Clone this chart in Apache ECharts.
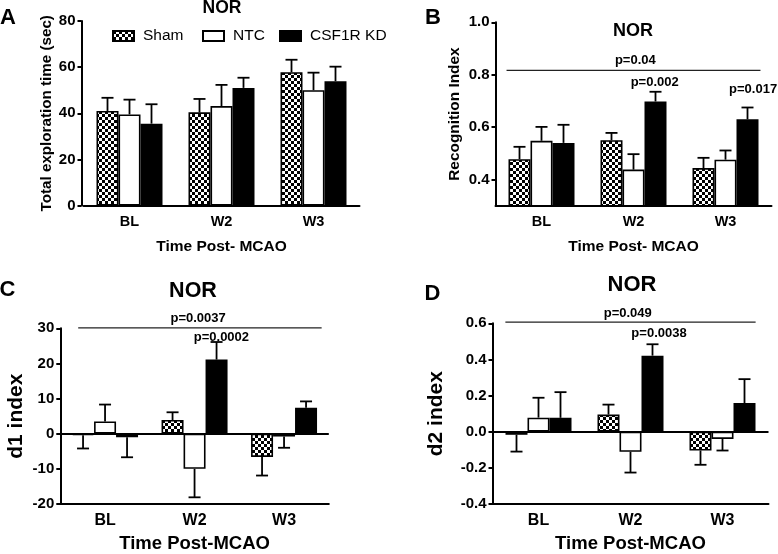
<!DOCTYPE html>
<html>
<head>
<meta charset="utf-8">
<script src="https://cdn.jsdelivr.net/npm/echarts@6/dist/echarts.min.js"></script>
<style>
html,body{margin:0;padding:0;background:#fff;}
#chart{width:778px;height:554px;}
</style>
</head>
<body>
<div id="chart"></div>
<script>
// ---------- data ----------
const categories = ['BL', 'W2', 'W3'];
const groups = ['Sham', 'NTC', 'CSF1R KD'];

// Panel A: Total exploration time (sec) – mean and SEM
const aSham = [41.0, 40.4, 57.8];
const aShamSem = [5.7, 5.8, 5.4];
const aNtc = [39.5, 43.1, 50.0];
const aNtcSem = [6.4, 9.2, 7.6];
const aKd = [35.5, 51.0, 53.9];
const aKdSem = [8.4, 4.4, 6.3];

// Panel B: Recognition Index
const bSham = [0.478, 0.550, 0.444];
const bShamSem = [0.047, 0.028, 0.039];
const bNtc = [0.548, 0.438, 0.476];
const bNtcSem = [0.053, 0.059, 0.035];
const bKd = [0.540, 0.698, 0.630];
const bKdSem = [0.069, 0.037, 0.045];

// Panel C: d1 index
const cSham = [-0.4, 3.9, -6.6];
const cShamSem = [3.8, 2.2, 5.3];
const cNtc = [3.5, -10.0, -0.8];
const cNtcSem = [4.8, 8.1, 3.2];
const cKd = [-1.0, 21.1, 7.4];
const cKdSem = [5.7, 5.0, 1.8];

// Panel D: d2 index
const dSham = [-0.017, 0.095, -0.104];
const dShamSem = [0.093, 0.055, 0.079];
const dNtc = [0.078, -0.111, -0.040];
const dNtcSem = [0.110, 0.115, 0.064];
const dKd = [0.077, 0.421, 0.159];
const dKdSem = [0.142, 0.063, 0.132];

// tick labels
const aTicks = [0, 20, 40, 60, 80];
const bTicks = [0.4, 0.6, 0.8, 1.0];
const cTicks = [-20, -10, 0, 10, 20, 30];
const dTicks = [-0.4, -0.2, 0.0, 0.2, 0.4, 0.6];

// significance annotations (x in category units, y in data units)
const bBracket = [[-0.38, 0.8165], [2.38, 0.8165]];
const bPvals = [[1.02, 0.856, 'p=0.04'], [1.23, 0.772, 'p=0.002'], [2.30, 0.745, 'p=0.017']];
const cBracket = [[-0.30, 30.1], [2.42, 30.1]];
const cPvals = [[1.04, 32.8, 'p=0.0037'], [1.30, 27.5, 'p=0.0002']];
const dBracket = [[-0.36, 0.607], [2.36, 0.607]];
const dPvals = [[0.97, 0.655, 'p=0.049'], [1.31, 0.546, 'p=0.0038']];

// ---------- styling ----------
const FONT = "'Liberation Sans', Arial, sans-serif";
const BAR_W = 22;

function checker() {
  const c = document.createElement('canvas');
  c.width = 6; c.height = 6;
  const g = c.getContext('2d');
  g.fillStyle = '#fff'; g.fillRect(0, 0, 6, 6);
  g.fillStyle = '#000';
  g.fillRect(0, 0, 3, 3); g.fillRect(3, 3, 3, 3);
  return c;
}
const pattern = { image: checker(), repeat: 'repeat' };
const fills = [pattern, '#ffffff', '#000000'];

const chart = echarts.init(document.getElementById('chart'), null, { renderer: 'canvas' });

const grids = [
  { left: 83.5, top: 21, width: 276, height: 184.5 },
  { left: 495.5, top: 22.3, width: 276, height: 183.5 },
  { left: 60.3, top: 328.3, width: 268.5, height: 179.4 },
  { left: 492.5, top: 323.3, width: 276, height: 184.4 }
];

const xLabelSize = [14.5, 14.5, 16, 16];
const xNameSize = [15.5, 15.5, 18.5, 18.5];
const xNameGap = [33, 33, 30, 30];
const xNames = ['Time Post- MCAO', 'Time Post- MCAO', 'Time Post-MCAO', 'Time Post-MCAO'];

const xAxes = [];
for (let k = 0; k < 4; k++) {
  xAxes.push({
    type: 'category', gridIndex: k, data: categories,
    name: xNames[k], nameLocation: 'middle', nameGap: xNameGap[k],
    nameTextStyle: { fontFamily: FONT, fontWeight: 'bold', fontSize: xNameSize[k], color: '#000' },
    axisLine: { onZero: false, lineStyle: { color: '#000', width: 2 } },
    axisTick: { alignWithLabel: true, length: 4, lineStyle: { color: '#000', width: 2 } },
    axisLabel: { fontFamily: FONT, fontWeight: 'bold', fontSize: xLabelSize[k], color: '#000', margin: 9 },
    splitLine: { show: false }
  });
}
// hidden value axes for annotations
for (let k = 0; k < 4; k++) {
  xAxes.push({ type: 'value', gridIndex: k, min: -0.5, max: 2.5, show: false, axisLine: { onZero: false } });
}

function yAxisBase(k, name, gap, size) {
  return {
    type: 'value', gridIndex: k, position: 'left',
    name: name, nameLocation: 'middle', nameGap: gap, nameRotate: 90,
    nameTextStyle: { fontFamily: FONT, fontWeight: 'bold', fontSize: size, color: '#000' },
    axisLine: { show: true, onZero: false, lineStyle: { color: '#000', width: 2 } },
    axisTick: { show: true, length: 4, lineStyle: { color: '#000', width: 2 } },
    axisLabel: { fontFamily: FONT, fontWeight: 'bold', fontSize: 15, color: '#000', margin: 6 },
    splitLine: { show: false }
  };
}
const fmt1 = v => (Math.abs(v) < 1e-9 ? '0.0' : v.toFixed(1));

const yA = yAxisBase(0, 'Total exploration time (sec)', 27, 15.2);
Object.assign(yA, { min: aTicks[0], max: aTicks[aTicks.length - 1], interval: 20, offset: 2 });
const yB = yAxisBase(1, 'Recognition Index', 33, 15.4);
Object.assign(yB, { min: 0.3, max: 1.0 });
yB.axisLabel.customValues = bTicks;
yB.axisLabel.formatter = fmt1;
yB.axisTick.customValues = bTicks;
const yC = yAxisBase(2, 'd1 index', 34, 21);
Object.assign(yC, { min: cTicks[0], max: cTicks[cTicks.length - 1], interval: 10 });
const yD = yAxisBase(3, 'd2 index', 46, 21);
Object.assign(yD, { min: dTicks[0], max: dTicks[dTicks.length - 1], interval: 0.2 });
yD.axisLabel.formatter = fmt1;

function errRender(idx) {
  return function (params, api) {
    const c = api.value(0), v = api.value(1), s = api.value(2);
    const end = v >= 0 ? v + s : v - s;
    const p0 = api.coord([c, v]);
    const p1 = api.coord([c, end]);
    const x = p0[0] + (idx - 1) * BAR_W;
    const st = { stroke: '#000', lineWidth: 1.8 };
    return {
      type: 'group', children: [
        { type: 'line', shape: { x1: x, y1: p0[1], x2: x, y2: p1[1] }, style: st },
        { type: 'line', shape: { x1: x - 6, y1: p1[1], x2: x + 6, y2: p1[1] }, style: st }
      ]
    };
  };
}

const series = [];
const panels = [
  [[aSham, aShamSem], [aNtc, aNtcSem], [aKd, aKdSem]],
  [[bSham, bShamSem], [bNtc, bNtcSem], [bKd, bKdSem]],
  [[cSham, cShamSem], [cNtc, cNtcSem], [cKd, cKdSem]],
  [[dSham, dShamSem], [dNtc, dNtcSem], [dKd, dKdSem]]
];
panels.forEach((pan, k) => {
  pan.forEach((g, i) => {
    const s = {
      type: 'bar', name: groups[i], xAxisIndex: k, yAxisIndex: k,
      data: g[0], barWidth: BAR_W, barGap: '0%',
      itemStyle: { color: fills[i], borderColor: '#000', borderWidth: 1.6 },
      emphasis: { disabled: true }, z: 2
    };
    if ((k === 2 || k === 3) && i === 0) {
      s.markLine = {
        silent: true, symbol: ['none', 'none'], label: { show: false },
        lineStyle: { color: '#000', width: 2, type: 'solid' },
        data: [{ yAxis: 0 }]
      };
    }
    series.push(s);
  });
  pan.forEach((g, i) => {
    series.push({
      type: 'custom', xAxisIndex: k, yAxisIndex: k, z: 3,
      data: g[0].map((v, j) => [j, v, g[1][j]]),
      renderItem: errRender(i)
    });
  });
});

function textRender(size) {
  return function (params, api) {
    const p = api.coord([api.value(0), api.value(1)]);
    return {
      type: 'text', x: p[0], y: p[1],
      style: {
        text: String(api.value(2)), textAlign: 'center', textVerticalAlign: 'middle',
        fontFamily: FONT, fontWeight: 'bold', fontSize: size, fill: '#000'
      }
    };
  };
}
[[1, bBracket, bPvals], [2, cBracket, cPvals], [3, dBracket, dPvals]].forEach(([k, br, pv]) => {
  series.push({
    type: 'line', xAxisIndex: 4 + k, yAxisIndex: k, data: br, symbol: 'none', clip: false,
    lineStyle: { color: '#222', width: 1.2 }, silent: true, z: 4
  });
  series.push({
    type: 'custom', xAxisIndex: 4 + k, yAxisIndex: k, clip: false, z: 4,
    dimensions: ['x', 'y', { name: 'label', type: 'ordinal' }],
    data: pv, renderItem: textRender(13)
  });
});

function legendFor(name, left) {
  return {
    data: [name], left: left, top: 23, itemWidth: 21, itemHeight: 10, itemGap: 0,
    selectedMode: false, icon: 'rect',
    textStyle: { fontFamily: FONT, fontSize: 15.5, color: '#000', padding: [0, 0, 0, 4] }
  };
}

function txt(x, y, text, size) {
  return {
    type: 'text', x: x, y: y, silent: true,
    style: { text: text, textAlign: 'center', textVerticalAlign: 'middle', fontFamily: FONT, fontWeight: 'bold', fontSize: size, fill: '#000' }
  };
}

chart.setOption({
  animation: false,
  backgroundColor: '#fff',
  grid: grids,
  xAxis: xAxes,
  yAxis: [yA, yB, yC, yD],
  legend: [legendFor('Sham', 107), legendFor('NTC', 197), legendFor('CSF1R KD', 274)],
  series: series,
  graphic: [
    txt(8, 18, 'A', 22), txt(433, 18, 'B', 22), txt(7.5, 289.5, 'C', 22), txt(432.5, 293.5, 'D', 22),
    txt(222, 8.5, 'NOR', 17.5), txt(633, 31.5, 'NOR', 18), txt(193, 291.5, 'NOR', 21.5), txt(632, 284.5, 'NOR', 22)
  ]
});
</script>
</body>
</html>
